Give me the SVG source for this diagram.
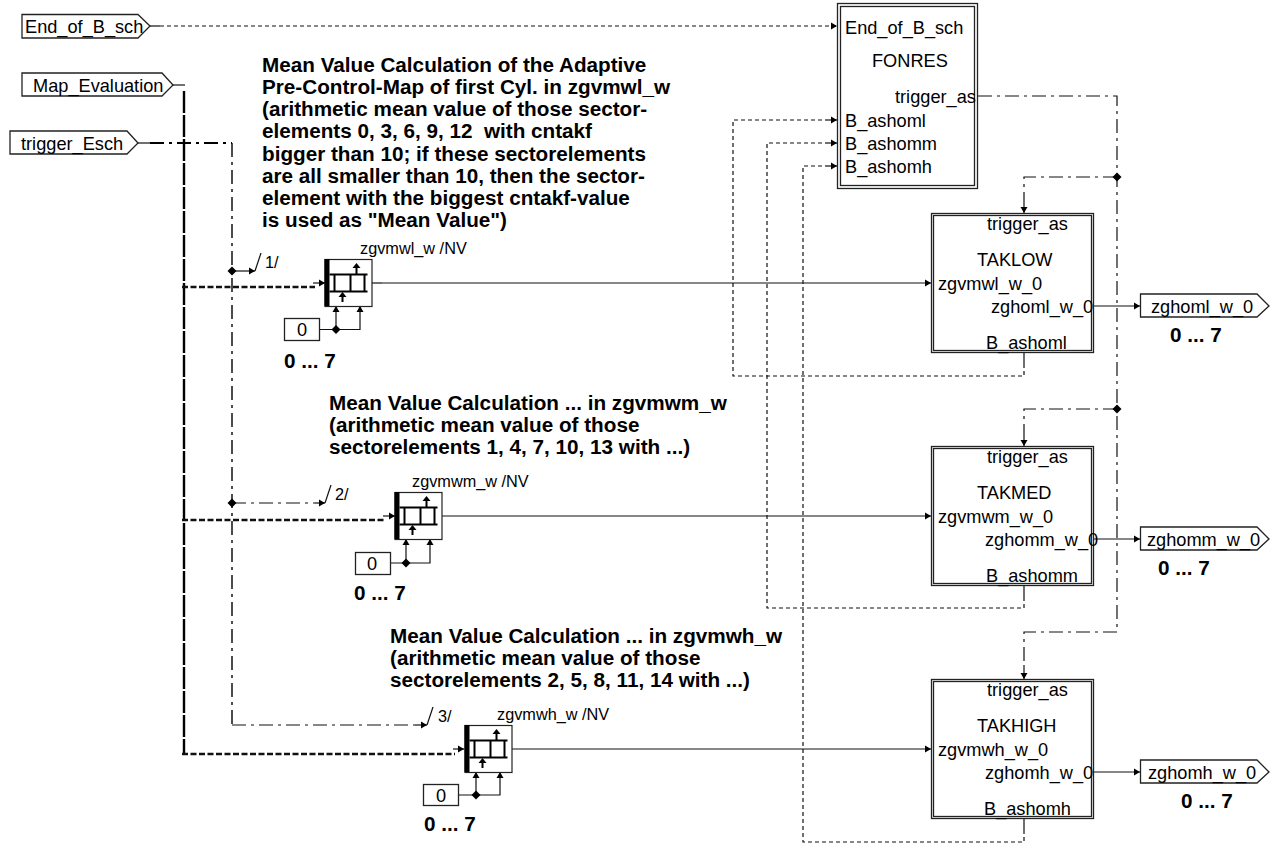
<svg xmlns="http://www.w3.org/2000/svg" width="1271" height="855" viewBox="0 0 1271 855">
<style>
text{font-family:"Liberation Sans",Arial,sans-serif;font-size:18.2px;fill:#000}
.b{font-weight:bold;font-size:20.7px;white-space:pre}
.n{font-size:16.3px}
.shape{fill:#fff;stroke:#222;stroke-width:1.3}
.w{fill:none;stroke:#111;stroke-width:1.2}
.s{marker-end:url(#a)}
.dot{stroke-dasharray:4 3}
.dd{stroke-dasharray:14 5 3 5}
.tk{stroke-width:2.4;stroke-dasharray:6 2.500}
.bus{fill:none;stroke:#000;stroke-width:2.400;stroke-dasharray:22 2}
.tri{fill:none;stroke:#111;stroke-width:1.500;stroke-dasharray:14 5 3 5}
.trih{fill:none;stroke:#000;stroke-width:2.200;stroke-dasharray:14 5 3 5}
</style>
<defs>
<marker id="a" markerUnits="userSpaceOnUse" markerWidth="8" markerHeight="8" refX="7" refY="4" orient="auto"><path d="M1 0.5L7 4L1 7.5Z" fill="#000"/></marker>
<path id="d" d="M0-4.500L4.500 0L0 4.500L-4.500 0Z" fill="#000"/>
<g id="reg">
<rect x="0.5" y="0.5" width="47" height="47" fill="#fff" stroke="#222" stroke-width="1.2"/>
<rect x="0" y="0" width="5" height="47" fill="#000"/>
<path d="M5 15.500H43M5 32.500H43M10 15.500V32.500M26 15.500V32.500M40 15.500V32.500" fill="none" stroke="#000" stroke-width="2"/>
<path d="M32 15V7" stroke="#000" stroke-width="2"/><path d="M28 9L32 4L36 9Z" fill="#000"/>
<path d="M18 43V37" stroke="#000" stroke-width="2"/><path d="M14 38L18 33L22 38Z" fill="#000"/>
</g>
</defs>
<g id="connectors">
<path class="w" d="M150 26H160"/><path class="w dot s" d="M160 26H837"/>
<path class="w" d="M173 85H185"/>
<path class="bus" d="M184 91V754"/>
<path class="w tk" d="M182 754H455"/><path class="w s" d="M453 749H464"/>
<path class="w tk" d="M182 287H315"/><path class="w s" d="M313 283H325"/>
<path class="w tk" d="M182 520H385"/><path class="w s" d="M383 516H395"/>
<path class="w" d="M138 143H150"/>
<path class="trih" d="M150 143H232"/>
<path class="tri" d="M232 143V725"/><path class="w dd" d="M232 725H415"/><path class="w s" d="M415 725H427"/>
<path class="w s" d="M232 271H255"/><path class="w" d="M255 271L261 253"/>
<path class="w dd" d="M232 503H315"/><path class="w s" d="M315 503H325"/><path class="w" d="M325 503L331 485"/>
<path class="w" d="M427 725L433 707"/>
<use href="#d" x="232" y="271"/><use href="#d" x="232" y="503"/>
<path class="w" d="M372 283H382"/><path class="w s" d="M382 283H931"/>
<path class="w s" d="M442 516H931"/>
<path class="w s" d="M512 749H931"/>
<path class="w s" d="M319 329.500H336V306"/><path class="w s" d="M336 329.500H360V306"/>
<use href="#d" x="336" y="329.500"/>
<path class="w s" d="M390 563H406V539"/><path class="w s" d="M406 563H430V539"/>
<use href="#d" x="406" y="563"/>
<path class="w s" d="M459 795H476V772"/><path class="w s" d="M476 795H500V772"/>
<use href="#d" x="476" y="795"/>
<path class="w dd" d="M978 96H1117V632H1024V665"/>
<path class="w dd" d="M1117 177H1024V200"/><path class="w dd" d="M1117 409H1024V432"/>
<path class="w s" d="M1024 200V213"/><path class="w s" d="M1024 432V446"/><path class="w s" d="M1024 665V679"/>
<use href="#d" x="1117" y="177"/><use href="#d" x="1117" y="409"/>
<path class="w s" d="M1094 306H1140"/><path class="w s" d="M1094 539H1140"/><path class="w s" d="M1094 772H1140"/>
<path class="w" d="M1024 353V364M1024 586V597M1024 819V830"/>
<path class="w dot" d="M1024 364V376H733V120H825"/><path class="w s" d="M825 120H837"/>
<path class="w dot" d="M1024 597V608H767V143H825"/><path class="w s" d="M825 143H837"/>
<path class="w dot" d="M1024 830V842H803V166H825"/><path class="w s" d="M825 166H837"/>
</g>
<g id="in-end"><path class="shape" d="M22 14.500H138L150 26L138 38H22Z"/><text x="25" y="33">End_of_B_sch</text></g>
<g id="in-map"><path class="shape" d="M22 73H162L173 85L162 96H22Z"/><text x="33" y="92">Map_Evaluation</text></g>
<g id="in-trig"><path class="shape" d="M10 131H127L138 143L127 154H10Z"/><text x="21" y="150">trigger_Esch</text></g>
<g id="notes">
<text class="b" x="262" y="72">Mean Value Calculation of the Adaptive</text>
<text class="b" x="262" y="94">Pre-Control-Map of first Cyl. in zgvmwl_w</text>
<text class="b" x="262" y="116">(arithmetic mean value of those sector-</text>
<text class="b" x="262" y="138">elements 0, 3, 6, 9, 12  with cntakf</text>
<text class="b" x="262" y="160.500">bigger than 10; if these sectorelements</text>
<text class="b" x="262" y="182.500">are all smaller than 10, then the sector-</text>
<text class="b" x="262" y="205">element with the biggest cntakf-value</text>
<text class="b" x="262" y="227">is used as "Mean Value")</text>
<text class="b" x="329" y="410">Mean Value Calculation ... in zgvmwm_w</text>
<text class="b" x="329" y="432">(arithmetic mean value of those</text>
<text class="b" x="329" y="453.500">sectorelements 1, 4, 7, 10, 13 with ...)</text>
<text class="b" x="390" y="643">Mean Value Calculation ... in zgvmwh_w</text>
<text class="b" x="390" y="665">(arithmetic mean value of those</text>
<text class="b" x="390" y="686.500">sectorelements 2, 5, 8, 11, 14 with ...)</text>
</g>
<g id="reg-1"><use href="#reg" x="324.500" y="259"/><text class="n" x="360" y="254">zgvmwl_w /NV</text><text class="n" x="265" y="268">1/</text><rect class="shape" x="284.500" y="318.500" width="35" height="22"/><text x="297" y="336">0</text><text class="b" x="284" y="368">0 ... 7</text></g>
<g id="reg-2"><use href="#reg" x="394.500" y="492"/><text class="n" x="412" y="487">zgvmwm_w /NV</text><text class="n" x="335" y="500">2/</text><rect class="shape" x="355.500" y="552.500" width="35" height="22"/><text x="367" y="570">0</text><text class="b" x="354" y="600">0 ... 7</text></g>
<g id="reg-3"><use href="#reg" x="464.500" y="725"/><text class="n" x="497" y="720">zgvmwh_w /NV</text><text class="n" x="438" y="722">3/</text><rect class="shape" x="423.500" y="784.500" width="35" height="21"/><text x="436" y="802">0</text><text class="b" x="424" y="831">0 ... 7</text></g>
<g id="FONRES"><rect class="shape" x="837.500" y="3.500" width="140" height="185"/><rect class="shape" x="840.500" y="6.500" width="134" height="179"/>
<text x="845" y="34">End_of_B_sch</text><text x="872" y="67">FONRES</text><text x="895" y="103">trigger_as</text><text x="845" y="127">B_ashoml</text><text x="845" y="150">B_ashomm</text><text x="845" y="173">B_ashomh</text></g>
<g id="TAKLOW"><rect class="shape" x="931.500" y="213.500" width="162" height="139"/><rect class="shape" x="933.500" y="215.500" width="158" height="135"/>
<text x="987" y="230">trigger_as</text><text x="977" y="266">TAKLOW</text><text x="938" y="290">zgvmwl_w_0</text><text x="991" y="313">zghoml_w_0</text><text x="986" y="349">B_ashoml</text></g>
<g id="TAKMED"><rect class="shape" x="931.500" y="446.500" width="162" height="139"/><rect class="shape" x="933.500" y="448.500" width="158" height="135"/>
<text x="987" y="463">trigger_as</text><text x="977" y="499">TAKMED</text><text x="938" y="523">zgvmwm_w_0</text><text x="985" y="546">zghomm_w_0</text><text x="986" y="582">B_ashomm</text></g>
<g id="TAKHIGH"><rect class="shape" x="931.500" y="679.500" width="162" height="139"/><rect class="shape" x="933.500" y="681.500" width="158" height="135"/>
<text x="987" y="696">trigger_as</text><text x="977" y="732">TAKHIGH</text><text x="938" y="756">zgvmwh_w_0</text><text x="985" y="779">zghomh_w_0</text><text x="984" y="815">B_ashomh</text></g>
<g id="out-l"><path class="shape" d="M1140.500 294H1257L1269 306L1257 317H1140.500Z"/><text x="1151" y="313">zghoml_w_0</text><text class="b" x="1170" y="342">0 ... 7</text></g>
<g id="out-m"><path class="shape" d="M1140.500 527H1257L1269 539L1257 550H1140.500Z"/><text x="1147" y="546">zghomm_w_0</text><text class="b" x="1158" y="575">0 ... 7</text></g>
<g id="out-h"><path class="shape" d="M1140.500 760H1257L1269 772L1257 783H1140.500Z"/><text x="1148" y="779">zghomh_w_0</text><text class="b" x="1181" y="808">0 ... 7</text></g>
</svg>
